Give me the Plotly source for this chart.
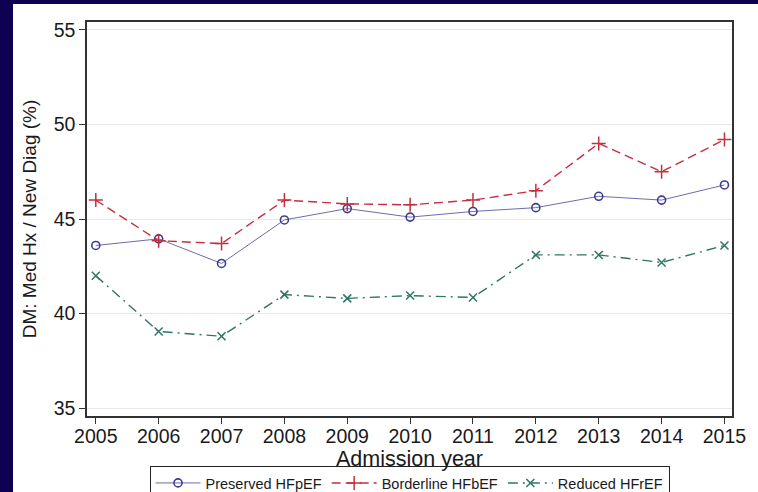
import plotly.graph_objects as go

years = [2005, 2006, 2007, 2008, 2009, 2010, 2011, 2012, 2013, 2014, 2015]
preserved = [43.6, 43.95, 42.65, 44.95, 45.55, 45.1, 45.4, 45.6, 46.2, 46.0, 46.8]
borderline = [46.0, 43.85, 43.7, 46.0, 45.8, 45.75, 46.0, 46.5, 49.0, 47.5, 49.2]
reduced = [42.0, 39.05, 38.8, 41.0, 40.8, 40.95, 40.85, 43.1, 43.1, 42.7, 43.6]
y_ticks = [35, 40, 45, 50, 55]
x_ticks = years

FONT = "Liberation Sans, Arial, Helvetica, sans-serif"
C_P = "#3d3d92"
C_B = "#c3303f"
C_R = "#2f7565"

fig = go.Figure()
fig.add_trace(go.Scatter(
    x=years, y=preserved, name="Preserved HFpEF", mode="lines+markers",
    line=dict(color="#6c6cae", width=1),
    marker=dict(symbol="circle-open", size=8, color=C_P, line=dict(width=1.6, color=C_P)),
))
fig.add_trace(go.Scatter(
    x=years, y=borderline, name="Borderline HFbEF", mode="lines+markers",
    line=dict(color=C_B, width=1.4, dash="9px,5px"),
    marker=dict(symbol="cross-thin", size=10, color=C_B, line=dict(width=1.5, color=C_B)),
))
fig.add_trace(go.Scatter(
    x=years, y=reduced, name="Reduced HFrEF", mode="lines+markers",
    line=dict(color=C_R, width=1.4, dash="10px,5px,2px,5px"),
    marker=dict(symbol="x-thin", size=8, color=C_R, line=dict(width=1.5, color=C_R)),
))

# white panel on navy background
fig.add_shape(type="rect", xref="paper", yref="paper",
              x0=(13 - 87) / 645, x1=1.2, y0=-0.4, y1=(416 - 4) / 394,
              fillcolor="white", line=dict(width=0), layer="below")

axis_common = dict(
    showline=True, mirror=True, linecolor="#333333", linewidth=1.5,
    ticks="outside", ticklen=6, tickwidth=1.3, tickcolor="#333333",
    tickfont=dict(family=FONT, size=19.5, color="#1a1a1a"),
    zeroline=False, automargin=True,
)

fig.update_xaxes(
    range=[2004.86, 2015.12], tickvals=x_ticks, ticktext=[str(v) for v in x_ticks],
    showgrid=False, ticklabelstandoff=-4,
    title=dict(text="Admission year", font=dict(family=FONT, size=21.5, color="#1a1a1a"), standoff=0),
    **axis_common,
)
fig.update_yaxes(
    range=[34.58, 55.42], tickvals=y_ticks, ticktext=[str(v) for v in y_ticks],
    showgrid=True, gridcolor="#e8e8e8", gridwidth=1,
    title=dict(text="DM: Med Hx / New Diag (%)", font=dict(family=FONT, size=19, color="#1a1a1a"), standoff=12),
    **axis_common,
)

fig.update_layout(
    width=758, height=492,
    margin=dict(l=87, r=26, t=22, b=76, autoexpand=False),
    paper_bgcolor="#0e0152",
    plot_bgcolor="white",
    font=dict(family=FONT, color="#1a1a1a"),
    showlegend=True,
    legend=dict(
        orientation="h", x=0.5, xanchor="center", y=(416 - 466) / 394, yanchor="top",
        bordercolor="#222222", borderwidth=1, bgcolor="white",
        font=dict(family=FONT, size=14.5, color="#1a1a1a"),
        itemwidth=45, tracegroupgap=0,
    ),
)

fig.write_html("out.html")
